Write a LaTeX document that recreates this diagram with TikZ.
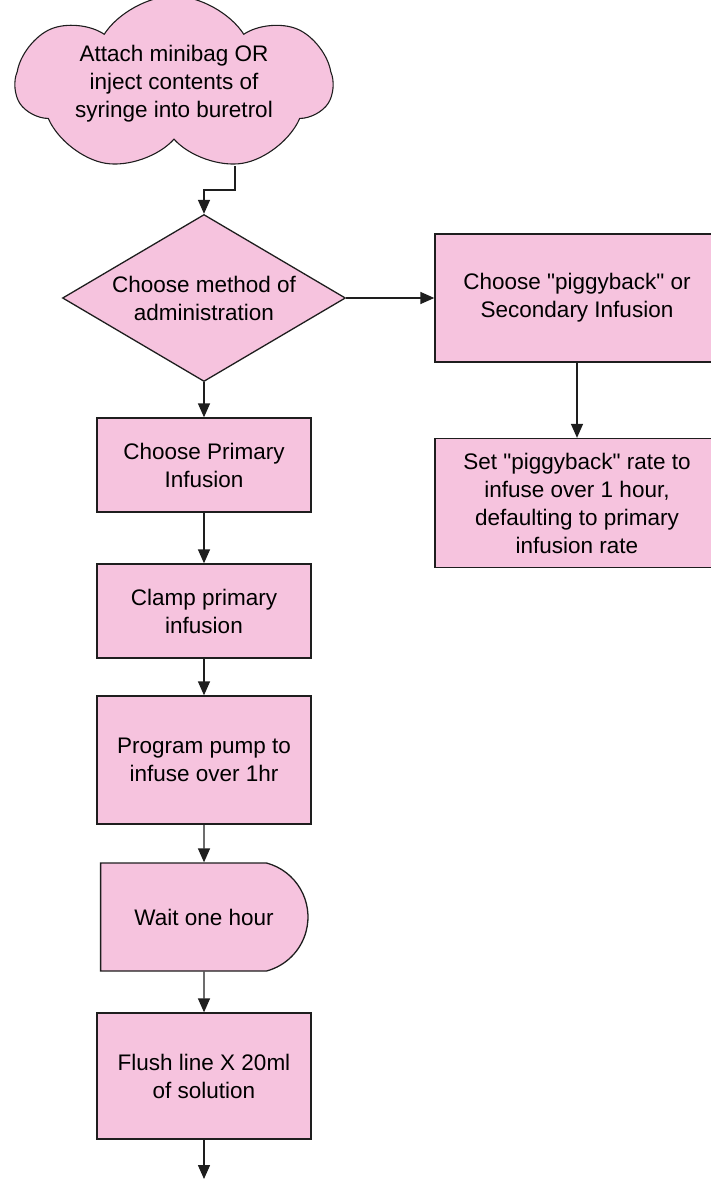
\documentclass[tikz,border=0pt]{standalone}
\usepackage{fontspec}
\setmainfont{Liberation Sans}
\usetikzlibrary{shapes.geometric, shapes.symbols, shapes.misc, arrows.meta}
\definecolor{flowpink}{RGB}{246,195,222}
\definecolor{flowline}{RGB}{30,30,30}
\tikzstyle{process} = [rectangle, minimum width=214pt, minimum height=94pt, align=center, draw=flowline, line width=1.3pt, fill=flowpink, inner sep=2pt]
\tikzstyle{sideprocess} = [process, minimum width=284pt, minimum height=128pt]
\tikzstyle{decision} = [diamond, aspect=1.8, inner sep=0pt, minimum width=283pt, minimum height=167pt, align=center, draw=flowline, line width=1.3pt, fill=flowpink]
\tikzstyle{delay} = [rounded rectangle, rounded rectangle left arc=none, rounded rectangle arc length=150, minimum width=214pt, minimum height=108pt, align=center, draw=flowline, line width=1.3pt, fill=flowpink]
\tikzstyle{cloudnote} = [cloud, cloud puffs=7, cloud puff arc=115, cloud ignores aspect, inner sep=0pt, minimum width=316pt, minimum height=176pt, align=center, draw=flowline, line width=1.1pt, fill=flowpink]
\tikzstyle{arrow} = [line width=1.4pt, draw=flowline, -{Triangle[length=14pt,width=12pt]}]

\begin{document}
\begin{tikzpicture}[x=1pt, y=-1pt, font=\fontsize{22.5}{28}\selectfont]

\useasboundingbox (0,0) rectangle (711,1180);
\clip (0,0) rectangle (711,1180);

% Start
\node[cloudnote] (start) at (174,84) {Attach minibag OR\\inject contents of\\syringe into buretrol};
\coordinate (starttail) at (235,166);

% Decision
\node[decision] (choice) at (204,298) {Choose method of\\administration};

% Secondary branch
\node[sideprocess] (piggy) at (577,298) {Choose \textquotedbl piggyback\textquotedbl{} or\\Secondary Infusion};
\node[sideprocess, minimum height=129pt] (rate) at (577,503) {Set \textquotedbl piggyback\textquotedbl{} rate to\\infuse over 1 hour,\\defaulting to primary\\infusion rate};

% Primary branch
\node[process] (prim) at (204,465) {Choose Primary\\Infusion};
\node[process] (clamp) at (204,611) {Clamp primary\\infusion};
\node[process, minimum height=128pt] (prog) at (204,760) {Program pump to\\infuse over 1hr};
\node[delay] (wait) at (204,917) {Wait one hour};
\node[process, minimum height=126pt] (flush) at (204,1076) {Flush line X 20ml\\of solution};
\coordinate (endtail) at (204,1179);

% Connectors
\draw[arrow] (starttail) -- ++(0,24) -| (choice.north);
\draw[arrow] (choice.east) -- (piggy.west);
\draw[arrow] (piggy) -- (rate);
\draw[arrow] (choice) -- (prim);
\draw[arrow] (prim) -- (clamp);
\draw[arrow] (clamp) -- (prog);
\draw[arrow] (prog) -- (wait);
\draw[arrow] (wait) -- (flush);
\draw[arrow] (flush) -- (endtail);

\end{tikzpicture}
\end{document}
